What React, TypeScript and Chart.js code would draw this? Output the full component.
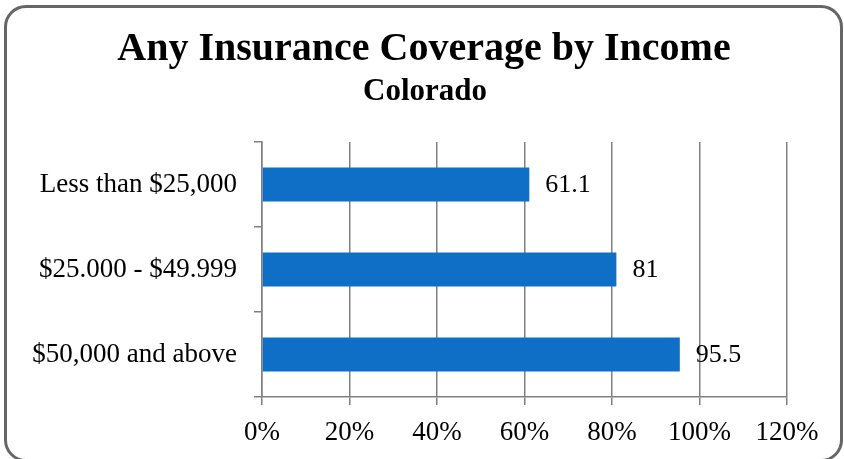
import React, { useEffect, useRef } from "react";
import { Chart, registerables } from "chart.js";

Chart.register(...registerables);

const categories = ["Less than $25,000", "$25.000 - $49.999", "$50,000 and above"];
const coverage = [61.1, 81, 95.5];
const xTickMax = 120;
const xTickStep = 20;
const titleText = "Any Insurance Coverage by Income";
const subtitleText = "Colorado";

const FONT = "'Liberation Serif', 'Times New Roman', serif";

const valueLabels = {
  id: "valueLabels",
  afterDatasetsDraw(chart: any) {
    const ctx = chart.ctx;
    const meta = chart.getDatasetMeta(0);
    ctx.save();
    ctx.font = `26px ${FONT}`;
    ctx.fillStyle = "#000000";
    ctx.textAlign = "left";
    ctx.textBaseline = "middle";
    meta.data.forEach((bar: any, i: number) => {
      const v = chart.data.datasets[0].data[i];
      ctx.fillText(String(v), bar.x + 16, bar.y + 1);
    });
    ctx.restore();
  },
};

export default function App() {
  const ref = useRef<HTMLCanvasElement | null>(null);

  useEffect(() => {
    document.body.style.margin = "0";
    const chart = new Chart(ref.current as HTMLCanvasElement, {
      type: "bar",
      data: {
        labels: categories,
        datasets: [
          {
            data: coverage,
            backgroundColor: "#0F6FC6",
            borderWidth: 0,
            barPercentage: 0.4,
            categoryPercentage: 1,
          },
        ],
      },
      options: {
        indexAxis: "y",
        animation: false,
        responsive: false,
        maintainAspectRatio: false,
        layout: { padding: { left: 0, right: 57, top: 142, bottom: 0 } },
        plugins: {
          legend: { display: false },
          tooltip: { enabled: false },
          title: { display: false },
          subtitle: { display: false },
        },
        scales: {
          x: {
            min: 0,
            max: xTickMax,
            afterFit: (scale: any) => {
              scale.height = 62;
            },
            ticks: {
              stepSize: xTickStep,
              color: "#000000",
              font: { family: FONT, size: 27 },
              padding: 12,
              callback: (v: any) => v + "%",
              maxRotation: 0,
            },
            grid: {
              color: "#808080",
              lineWidth: 1.5,
              drawTicks: true,
              tickLength: 8,
              tickColor: "#808080",
            },
            border: { display: true, color: "#808080", width: 1.5 },
          },
          y: {
            afterFit: (scale: any) => {
              scale.width = 262;
            },
            ticks: {
              color: "#000000",
              font: { family: FONT, size: 27 },
              padding: 17,
            },
            grid: {
              drawOnChartArea: false,
              drawTicks: true,
              tickLength: 8,
              color: "#808080",
              tickColor: "#808080",
              lineWidth: 1.5,
            },
            border: { display: true, color: "#808080", width: 1.5 },
          },
        },
      },
      plugins: [valueLabels],
    });
    return () => chart.destroy();
  }, []);

  return (
    <div style={{ position: "relative", width: 844, height: 459, overflow: "hidden", background: "#ffffff" }}>
      <canvas ref={ref} width={844} height={459} style={{ position: "absolute", left: 0, top: 0, width: 844, height: 459 }} />
      <div
        style={{
          position: "absolute",
          left: 0,
          top: 23,
          width: 848,
          textAlign: "center",
          fontFamily: FONT,
          fontWeight: "bold",
          fontSize: 40,
          lineHeight: "48px",
          color: "#000000",
          whiteSpace: "nowrap",
        }}
      >
        {titleText}
      </div>
      <div
        style={{
          position: "absolute",
          left: 0,
          top: 72,
          width: 850,
          textAlign: "center",
          fontFamily: FONT,
          fontWeight: "bold",
          fontSize: 31,
          lineHeight: "36px",
          color: "#000000",
          whiteSpace: "nowrap",
        }}
      >
        {subtitleText}
      </div>
      <div
        style={{
          position: "absolute",
          left: 4,
          top: 5,
          width: 833,
          height: 451,
          border: "3px solid #666666",
          borderRadius: 22,
          pointerEvents: "none",
        }}
      />
    </div>
  );
}
